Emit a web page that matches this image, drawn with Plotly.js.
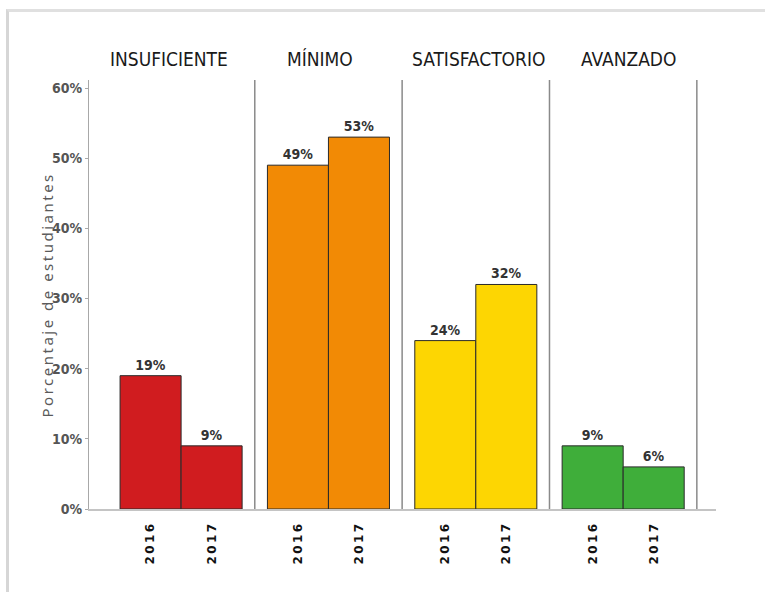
<!DOCTYPE html>
<html>
<head>
<meta charset="utf-8">
<script src="https://cdn.plot.ly/plotly-3.0.1.min.js"></script>
<style>
html,body{margin:0;padding:0;background:#fff;}
#wrap{position:relative;width:765px;height:592px;overflow:hidden;}
#chart{position:absolute;left:0;top:0;width:765px;height:592px;}
#frame{position:absolute;left:6px;top:9px;width:780px;height:580px;border-left:3px solid #d6d6d6;border-top:3px solid #e0e0e0;border-bottom:2px solid #eeeeee;pointer-events:none;}
</style>
</head>
<body>
<div id="wrap"><div id="chart"></div><div id="frame"></div></div>
<script>
const levels = ["INSUFICIENTE", "MÍNIMO", "SATISFACTORIO", "AVANZADO"];
const years = ["2016", "2017"];
const values2016 = [19, 49, 24, 9];
const values2017 = [9, 53, 32, 6];
const colors = ["#d01c1f", "#f28a05", "#fdd602", "#3fae3a"];
const yTitle = "Porcentaje de estudiantes";

const barW = 61 / 147.3;
const titleShift = [-0.085, -0.055, 0.02, 0.035];
const series = [values2016, values2017];
const traces = [];
const tickvals = [], ticktext = [];
years.forEach((yr, j) => {
  const off = (j - 0.5) * barW;
  const xs = levels.map((_, i) => i + off);
  xs.forEach(x => { tickvals.push(x); ticktext.push(yr.split("").join("\u2009")); });
  traces.push({
    type: "bar",
    x: xs,
    y: series[j],
    width: barW,
    marker: {color: colors, line: {color: "#2a2a2a", width: 1}},
    text: series[j].map(v => v + "%"),
    textposition: "outside",
    cliponaxis: false,
    textfont: {family: "DejaVu Sans Condensed, DejaVu Sans, sans-serif", size: 14, color: "#333", weight: "bold"},
    hoverinfo: "skip",
    showlegend: false
  });
});

const shapes = levels.map((_, i) => ({
  type: "line", xref: "x", yref: "paper", x0: i + 0.5, x1: i + 0.5, y0: 0, y1: 1,
  line: {color: "#8a8a8a", width: 1.5}
}));
const annotations = levels.map((lv, i) => ({
  text: lv, xref: "x", yref: "paper", x: i + titleShift[i], y: 1.05, yanchor: "middle",
  showarrow: false,
  font: {family: "DejaVu Sans Condensed, sans-serif", size: 19, color: "#1a1a1a"}
}));
annotations.push({
  text: '<span style="letter-spacing:2.5px">' + yTitle + '</span>',
  xref: "paper", yref: "paper", x: -0.067, y: 0.5, xanchor: "center", yanchor: "middle",
  textangle: -90, showarrow: false,
  font: {family: "Noto Sans, Open Sans, sans-serif", size: 15, color: "#5a5a5a"}
});

const layout = {
  width: 765, height: 592,
  margin: {l: 89, r: 49, t: 80, b: 83},
  paper_bgcolor: "#fff", plot_bgcolor: "#fff",
  bargap: 0,
  xaxis: {
    range: [-0.625, 3.63], tickmode: "array", tickvals: tickvals, ticktext: ticktext,
    tickangle: -90, showgrid: false, zeroline: false, showline: true, linecolor: "#c4c4c4", linewidth: 2,
    ticks: "", ticklabelstandoff: 8,
    tickfont: {family: "DejaVu Sans, sans-serif", size: 12, color: "#111", weight: "bold"}
  },
  yaxis: {
    range: [0, 61.14], tickvals: [0, 10, 20, 30, 40, 50, 60], ticktext: ["0%", "10%", "20%", "30%", "40%", "50%", "60%"],
    showgrid: false, zeroline: false, showline: true, linecolor: "#a8a8a8", linewidth: 1,
    ticks: "outside", ticklen: 3, tickcolor: "#a8a8a8",
    tickfont: {family: "DejaVu Sans Condensed, sans-serif", size: 14, color: "#555", weight: "bold"}
  },
  shapes: shapes,
  annotations: annotations
};
Plotly.newPlot("chart", traces, layout, {displayModeBar: false, staticPlot: true});
</script>
</body>
</html>
